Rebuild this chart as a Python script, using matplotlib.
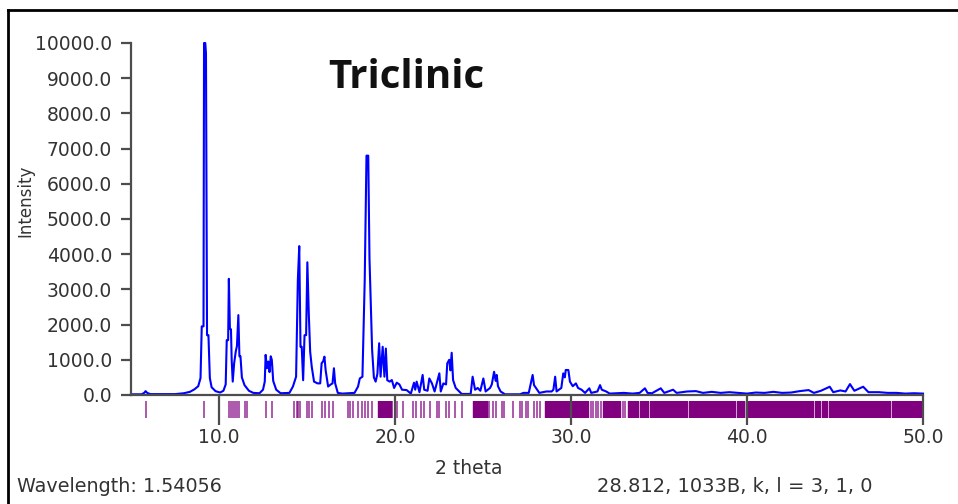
import matplotlib.pyplot as plt
from matplotlib.lines import Line2D

# powder pattern (2 theta, intensity)
two_theta = [5.0, 5.6, 5.75, 5.83, 5.92, 6.1, 7.5, 8.0, 8.35, 8.6, 8.82, 8.95,
             9.02, 9.12, 9.15, 9.22, 9.26, 9.32, 9.40, 9.48, 9.58, 9.8, 10.06,
             10.25, 10.38, 10.44, 10.52, 10.56, 10.62, 10.68, 10.72, 10.78, 10.86,
             10.95, 11.02, 11.1, 11.16, 11.22, 11.3, 11.45, 11.7, 11.95, 12.3,
             12.5, 12.6, 12.65, 12.72, 12.8, 12.87, 12.94, 13.0, 13.08, 13.25,
             13.5, 14.0, 14.2, 14.38, 14.48, 14.56, 14.63, 14.7, 14.78, 14.86,
             14.95, 15.02, 15.1, 15.18, 15.27, 15.4, 15.6, 15.75, 15.83, 15.92,
             15.99, 16.06, 16.2, 16.35, 16.45, 16.53, 16.6, 16.75, 17.0, 17.7,
             17.9, 18.0, 18.15, 18.28, 18.38, 18.48, 18.55, 18.62, 18.7, 18.8,
             18.9, 19.0, 19.1, 19.18, 19.3, 19.4, 19.48, 19.56, 19.7, 19.82,
             19.95, 20.1, 20.25, 20.4, 20.66, 20.9, 21.08, 21.15, 21.23, 21.39,
             21.57, 21.66, 21.85, 21.95, 22.1, 22.25, 22.52, 22.6, 22.75, 22.9,
             22.97, 23.08, 23.15, 23.22, 23.3, 23.45, 23.79, 24.3, 24.41, 24.55,
             24.7, 24.85, 25.02, 25.15, 25.4, 25.5, 25.63, 25.72, 25.78, 25.85,
             26.0, 26.25, 27.1, 27.3, 27.6, 27.82, 27.9, 28.2, 28.6, 28.9, 29.0,
             29.1, 29.18, 29.45, 29.56, 29.65, 29.7, 29.85, 29.94, 30.1, 30.28,
             30.4, 30.6, 30.8, 31.04, 31.15, 31.5, 31.65, 31.75, 32.0, 32.2,
             32.6, 33.0, 33.5, 33.9, 34.2, 34.35, 34.6, 35.1, 35.3, 35.8, 36.0,
             36.6, 37.1, 37.5, 38.0, 38.5, 39.0, 39.5, 40.0, 40.5, 41.0, 41.5,
             42.0, 42.5, 43.0, 43.5, 43.8, 44.2, 44.7, 44.9, 45.3, 45.6, 45.85,
             46.1, 46.6, 46.9, 47.5, 48.0, 48.5, 49.0, 49.5, 50.0]
intensity = [20, 20, 60, 110, 60, 25, 25, 50, 90, 160, 250, 480,
             1950, 1950, 10000, 10000, 9700, 1700, 1700, 480, 220, 110, 70,
             120, 300, 1560, 1560, 3300, 1870, 1870, 1000, 380, 900,
             1230, 1390, 2270, 1100, 1100, 500, 280, 120, 60, 50,
             150, 380, 1140, 760, 950, 650, 1100, 1000, 400, 150,
             50, 60, 240, 520, 3270, 4230, 1370, 1370, 420, 1700,
             1700, 3770, 2330, 1230, 800, 380, 330, 330, 900, 960,
             1090, 700, 240, 300, 330, 760, 330, 60, 40, 60,
             240, 470, 520, 3270, 6800, 6800, 3880, 2700, 1280, 500,
             380, 600, 1470, 520, 1370, 520, 1320, 420, 380, 425,
             200, 350, 300, 150, 140, 40, 350, 150, 380, 80,
             570, 150, 120, 470, 330, 100, 615, 100, 330, 300,
             900, 1000, 700, 1200, 425, 200, 30, 30, 520, 150,
             200, 120, 470, 100, 200, 300, 660, 400, 570, 250,
             100, 20, 20, 60, 60, 570, 280, 60, 100, 100, 150,
             520, 100, 200, 615, 500, 710, 710, 380, 250, 330,
             200, 150, 60, 190, 60, 100, 280, 150, 100, 40,
             50, 60, 40, 60, 190, 60, 50, 190, 60, 150, 60,
             100, 110, 60, 90, 60, 80, 60, 40, 70, 60, 90,
             60, 70, 110, 140, 60, 120, 235, 80, 130, 100, 310,
             120, 235, 80, 80, 60, 60, 40, 50, 40]

# reflection marks: single lines and runs that merge into solid bands
refl_lines = [5.83, 9.15, 10.57, 10.68, 10.8, 10.91, 11.0, 11.14, 11.5, 11.58,
              12.67, 13.0, 14.26, 14.41, 14.5, 14.6, 14.98, 15.13, 15.27, 15.83,
              16.02, 16.25, 16.5, 17.35, 17.44, 17.6, 17.92, 18.1, 18.3, 18.49,
              18.68, 19.85, 20.0, 20.1, 20.45, 21.05, 21.2, 21.5, 21.65, 21.99,
              22.37, 22.5, 22.9, 23.08, 23.4, 23.79, 25.36, 25.56, 25.75, 26.06,
              26.2, 26.68, 27.1, 27.2, 27.43, 27.58, 27.9, 28.05, 28.24, 31.12,
              31.27, 31.42, 31.55, 31.69, 32.93, 33.07]
refl_bands = [(19.05, 19.8), (24.45, 25.2), (28.52, 28.93), (29.0, 30.97),
              (31.84, 32.78), (33.26, 33.8), (33.9, 34.4), (34.48, 34.58),
              (34.68, 36.6), (36.7, 39.3), (39.45, 39.85), (39.95, 43.45),
              (43.55, 43.75), (43.85, 44.15), (44.25, 44.55), (44.65, 48.15),
              (48.25, 50.0)]

x_ticks = [10, 20, 30, 40, 50]
y_ticks = list(range(0, 10001, 1000))

W, H = 958, 504
def box(x0, y0, x1, y1):
    return [x0 / W, 1 - y1 / H, (x1 - x0) / W, (y1 - y0) / H]

plt.rcParams['font.family'] = 'DejaVu Sans'
fig = plt.figure(figsize=(W / 100, H / 100), dpi=100)

ax = fig.add_axes(box(131, 43, 923, 395))
ax.set_zorder(2)
ax.patch.set_alpha(0)
ax.plot(two_theta, intensity, color='#0000ff', lw=1.5, clip_on=False)
ax.set_xlim(5, 50)
ax.set_ylim(0, 10000)
for s in ['top', 'right']:
    ax.spines[s].set_visible(False)
for s in ['left', 'bottom']:
    ax.spines[s].set_color('#4d4d4d')
    ax.spines[s].set_linewidth(1.6)
ax.set_xticks(x_ticks)
ax.set_xticklabels(['%.1f' % v for v in x_ticks])
ax.set_yticks(y_ticks)
ax.set_yticklabels(['%.1f' % v for v in y_ticks])
ax.tick_params(axis='x', length=21.6, width=1.6, color='#4d4d4d', pad=2,
               labelsize=13.5, labelcolor='#333333')
ax.tick_params(axis='y', length=7.2, width=1.6, color='#4d4d4d', pad=6.5,
               labelsize=13.5, labelcolor='#333333')

# strip of reflection positions under the x axis
ax2 = fig.add_axes(box(131, 401, 923, 418))
ax2.set_zorder(1)
ax2.set_xlim(5, 50)
ax2.set_ylim(0, 1)
ax2.axis('off')
ax2.vlines(refl_lines, 0, 1, color='#800080', lw=1.3, alpha=0.7)
ax2.broken_barh([(a, b - a) for a, b in refl_bands], (0, 1), color='#800080')

fig.text(406 / W, 1 - 77 / H, 'Triclinic', ha='center', va='center',
         fontsize=29, fontweight='bold', family='Open Sans', color='#111111')
fig.text(25 / W, 1 - 201 / H, 'Intensity', rotation=90, ha='center', va='center',
         fontsize=12, family=['Liberation Sans Narrow', 'DejaVu Sans'], color='#333333')
fig.text(469 / W, 1 - 468 / H, '2 theta', ha='center', va='center',
         fontsize=13.5, color='#333333')
fig.text(17 / W, 1 - 487 / H, 'Wavelength: 1.54056', ha='left', va='center',
         fontsize=13.8, color='#333333')
fig.text(597 / W, 1 - 487 / H, '28.812, 1033B, k, l = 3, 1, 0', ha='left',
         va='center', fontsize=14, color='#333333')

# outer frame of the screenshot
fig.add_artist(Line2D([7.5 / W, 7.5 / W], [0, 1 - 10 / H], color='black', lw=2))
fig.add_artist(Line2D([7.5 / W, 1], [1 - 10 / H, 1 - 10 / H], color='black', lw=2))

fig.savefig('out.png', dpi=100)
